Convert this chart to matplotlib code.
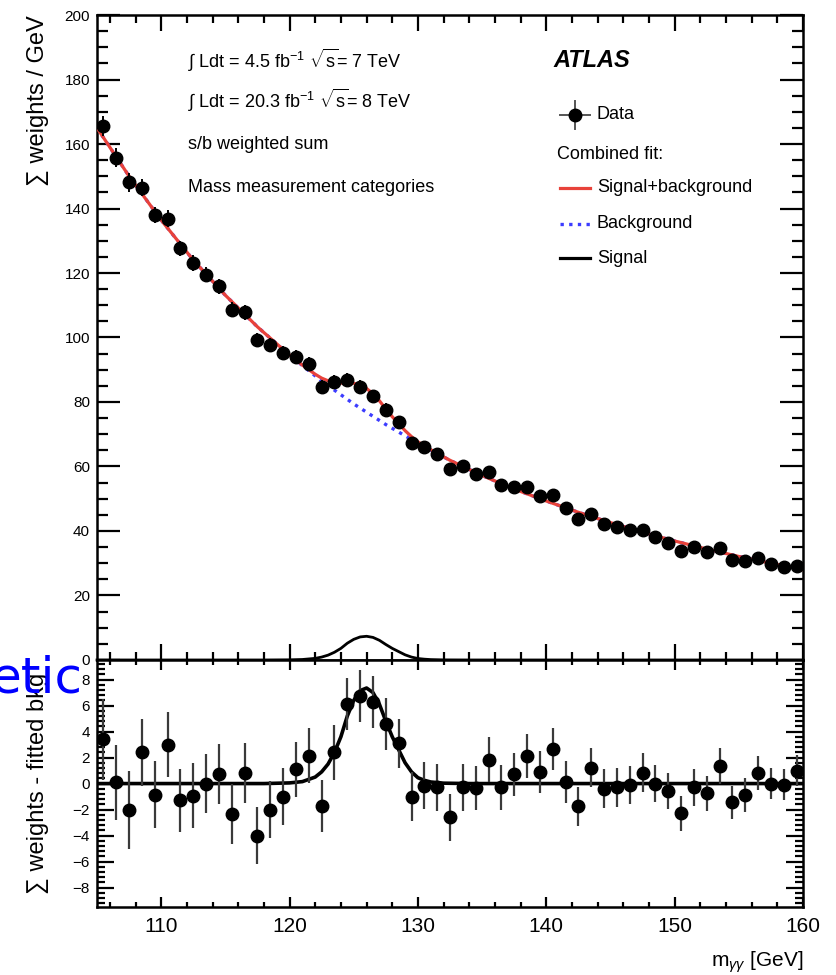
import numpy as np
import matplotlib
matplotlib.use("Agg")
import matplotlib.pyplot as plt
from matplotlib.ticker import MultipleLocator

plt.rcParams["font.family"] = ["Liberation Sans", "DejaVu Sans"]
plt.rcParams["mathtext.fontset"] = "custom"
plt.rcParams["mathtext.rm"] = "Liberation Sans"
plt.rcParams["mathtext.it"] = "Liberation Sans:italic"

# bin centres, 1 GeV bins
mass = np.arange(105.5, 160.0, 1.0)

# s/b weighted sum per GeV
data = [165.6, 155.8, 148.1, 146.5, 138.0, 136.9, 127.6, 123.0, 119.5, 115.9,
        108.6, 107.8, 99.3, 97.7, 95.3, 93.9, 91.8, 84.8, 86.2, 86.9,
        84.8, 81.8, 77.6, 73.8, 67.2, 66.0, 63.8, 59.3, 60.1, 57.8,
        58.3, 54.4, 53.7, 53.7, 50.9, 51.3, 47.0, 43.7, 45.4, 42.3,
        41.3, 40.2, 40.2, 38.2, 36.4, 33.8, 34.9, 33.5, 34.6, 31.0,
        30.7, 31.5, 29.7, 28.9, 29.2]

# data - fitted background
resid = [3.4, 0.1, -2.0, 2.4, -0.85, 3.0, -1.3, -0.95, 0.0, 0.75,
         -2.35, 0.8, -4.0, -2.0, -1.0, 1.1, 2.15, -1.7, 2.4, 6.15,
         6.7, 6.3, 4.6, 3.1, -1.0, -0.15, -0.3, -2.6, -0.3, -0.35,
         1.85, -0.3, 0.7, 2.15, 0.9, 2.65, 0.1, -1.75, 1.2, -0.4,
         -0.3, -0.1, 0.85, 0.0, -0.55, -2.3, -0.3, -0.75, 1.35, -1.45,
         -0.9, 0.8, 0.0, -0.1, 1.0]

err = [3.1, 2.9, 3.0, 2.6, 2.6, 2.5, 2.4, 2.5, 2.3, 2.3,
       2.3, 2.3, 2.2, 2.2, 2.2, 2.1, 2.1, 2.0, 2.1, 2.0,
       2.0, 2.0, 2.0, 1.9, 1.9, 1.8, 1.8, 1.8, 1.8, 1.7,
       1.7, 1.7, 1.65, 1.7, 1.6, 1.6, 1.6, 1.5, 1.5, 1.5,
       1.5, 1.45, 1.5, 1.4, 1.4, 1.35, 1.4, 1.35, 1.4, 1.3,
       1.3, 1.3, 1.2, 1.2, 1.2]

# fitted background, read at nodes
bkg_x = [105, 107.5, 110, 112.5, 115, 117.5, 120, 122.5, 125, 127.5, 130,
         132.5, 135, 137.5, 140, 142.5, 145, 147.5, 150, 152.5, 155, 157.5, 160]
bkg_y = [165.0, 150.0, 136.4, 124.0, 113.1, 103.3, 94.5, 86.5, 79.4, 73.0, 67.2,
         61.9, 57.2, 53.0, 49.3, 45.8, 42.6, 39.6, 36.9, 34.4, 32.1, 30.0, 28.0]

# fitted signal, read at nodes
sig_x = [105, 118, 120, 121, 122, 122.5, 123, 123.5, 124, 124.5, 125, 125.5, 126,
         126.5, 127, 127.5, 128, 128.5, 129, 129.5, 130, 130.5, 131, 132, 134, 160]
sig_y = [0, 0, 0.05, 0.15, 0.5, 0.9, 1.5, 2.4, 3.6, 5.2, 6.4, 7.15, 7.35,
         7.0, 6.1, 4.8, 3.6, 2.6, 1.6, 0.9, 0.45, 0.25, 0.12, 0.03, 0, 0]

grid = np.union1d(bkg_x, sig_x)
sb = np.interp(grid, bkg_x, bkg_y) + np.interp(grid, sig_x, sig_y)

fig = plt.figure(figsize=(8.37, 9.75), dpi=100)
ax1 = fig.add_axes([0.1159, 0.3231, 0.8435, 0.6615])
ax2 = fig.add_axes([0.1159, 0.0697, 0.8435, 0.2533], sharex=ax1)

# upper panel
ax1.plot(bkg_x, bkg_y, color="#3c3cff", lw=2.4, ls=(0, (1, 1.6)), zorder=2)
ax1.plot(grid, sb, color="#e8423a", lw=2.3, zorder=3)
ax1.plot(sig_x, sig_y, color="black", lw=2.0, zorder=3, clip_on=False)
ax1.errorbar(mass, data, yerr=err, fmt="o", color="black", ms=9,
             elinewidth=1.4, capsize=0, zorder=4)
ax1.set_xlim(105, 160)
ax1.set_ylim(0, 200)

# lower panel
ax2.plot(sig_x, sig_y, color="black", lw=2.6, zorder=2)
ax2.errorbar(mass, resid, yerr=err, fmt="o", color="black", ecolor="#3a3a3a",
             ms=9, elinewidth=1.6, capsize=0, zorder=3)
ax2.set_ylim(-9.5, 9.5)

for ax in (ax1, ax2):
    for sp in ax.spines.values():
        sp.set_linewidth(1.8)
    ax.tick_params(which="both", direction="in", top=True, right=True,
                   width=1.6, colors="black")

ax1.xaxis.set_major_locator(MultipleLocator(10))
ax1.xaxis.set_minor_locator(MultipleLocator(2))
ax1.yaxis.set_major_locator(MultipleLocator(20))
ax1.yaxis.set_minor_locator(MultipleLocator(5))
ax1.tick_params(axis="x", which="major", length=11.5, labelbottom=False)
ax1.tick_params(axis="x", which="minor", length=6)
ax1.tick_params(axis="y", which="major", length=16.5, labelsize=11, pad=5)
ax1.tick_params(axis="y", which="minor", length=8)

ax2.yaxis.set_major_locator(MultipleLocator(2))
ax2.yaxis.set_minor_locator(MultipleLocator(0.4))
ax2.tick_params(axis="x", which="major", length=7, labelsize=15, pad=7)
ax2.tick_params(axis="x", which="minor", length=3.6)
ax2.tick_params(axis="y", which="major", length=12, labelsize=11, pad=5)
ax2.tick_params(axis="y", which="minor", length=6)

ax1.set_ylabel("∑ weights / GeV", fontsize=17, loc="top")
ax1.yaxis.set_label_coords(-0.068, 1.0)
ax2.set_ylabel("∑ weights - fitted bkg", fontsize=17)
ax2.yaxis.set_label_coords(-0.068, 0.5)
ax2.set_xlabel(r"m$_{\gamma\gamma}$ [GeV]", fontsize=15, loc="right")
ax2.xaxis.set_label_coords(1.0, -0.17)

# annotations
tx = 0.129
ax1.text(tx, 0.93, r"$\int$ Ldt = 4.5 fb$^{-1}$ $\sqrt{\mathrm{s}}$= 7 TeV",
         transform=ax1.transAxes, fontsize=13, va="center")
ax1.text(tx, 0.868, r"$\int$ Ldt = 20.3 fb$^{-1}$ $\sqrt{\mathrm{s}}$= 8 TeV",
         transform=ax1.transAxes, fontsize=13, va="center")
ax1.text(tx, 0.80, "s/b weighted sum", transform=ax1.transAxes,
         fontsize=13, va="center")
ax1.text(tx, 0.733, "Mass measurement categories", transform=ax1.transAxes,
         fontsize=13, va="center")
ax1.text(0.646, 0.930, "ATLAS", transform=ax1.transAxes, fontsize=17,
         fontweight="bold", fontstyle="italic", va="center")

# legend drawn by hand
lx0, lx1, lt = 0.656, 0.698, 0.708
ax1.plot([lx0, lx1], [0.845, 0.845], color="#555555", lw=1.4, transform=ax1.transAxes)
ax1.plot([0.677, 0.677], [0.823, 0.867], color="#555555", lw=1.4, transform=ax1.transAxes)
ax1.plot([0.677], [0.845], "o", color="black", ms=9, transform=ax1.transAxes)
ax1.text(lt, 0.845, "Data", transform=ax1.transAxes, fontsize=13, va="center")
ax1.text(0.652, 0.783, "Combined fit:", transform=ax1.transAxes, fontsize=13, va="center")
ax1.plot([lx0, lx1], [0.732, 0.732], color="#e8423a", lw=2.3, transform=ax1.transAxes)
ax1.text(lt, 0.732, "Signal+background", transform=ax1.transAxes, fontsize=13, va="center")
ax1.plot([lx0, lx1], [0.676, 0.676], color="#3c3cff", lw=2.4, ls=(0, (1, 1.6)),
         transform=ax1.transAxes)
ax1.text(lt, 0.676, "Background", transform=ax1.transAxes, fontsize=13, va="center")
ax1.plot([lx0, lx1], [0.623, 0.623], color="black", lw=2.3, transform=ax1.transAxes)
ax1.text(lt, 0.623, "Signal", transform=ax1.transAxes, fontsize=13, va="center")

# slide text overlapping the figure
fig.text(-0.012, 0.290, "etic", fontsize=36, color="#0000ff",
         family="DejaVu Sans", va="baseline", zorder=10)

fig.savefig("out.png", dpi=100)
